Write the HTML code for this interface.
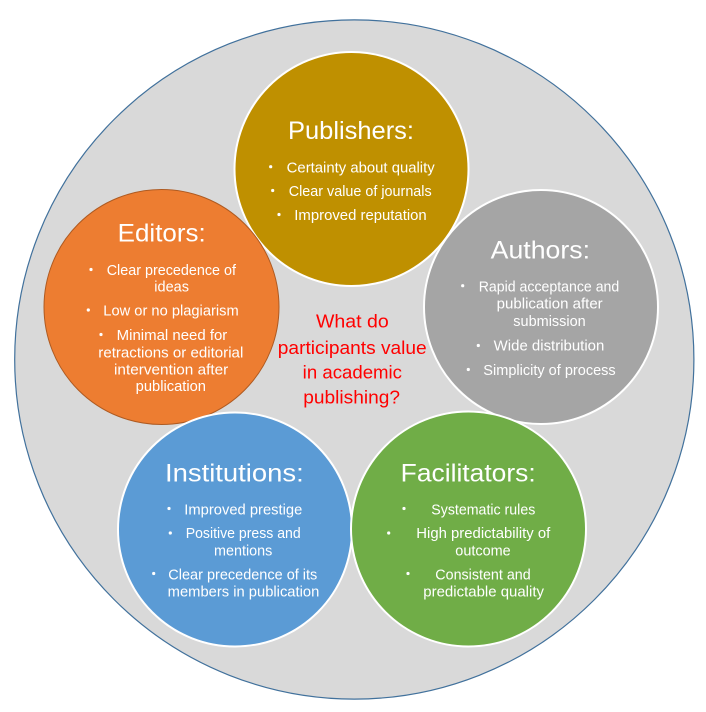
<!DOCTYPE html>
<html>
<head>
<meta charset="utf-8">
<style>
html,body{margin:0;padding:0;background:#ffffff;}
svg{display:block;}
text{font-family:"Liberation Sans",sans-serif;}
.t{fill:#ffffff;font-size:25px;}
.b{fill:#ffffff;font-size:14.5px;}
.r{fill:#ff0000;font-size:18.5px;}
</style>
</head>
<body>
<svg width="706" height="712" viewBox="0 0 706 712" xmlns="http://www.w3.org/2000/svg">
  <rect width="706" height="712" fill="#ffffff"/>
  <circle cx="354.3" cy="359.5" r="339.6" fill="#d9d9d9" stroke="#41719c" stroke-width="1.2"/>

  <!-- Publishers -->
  <circle cx="351.5" cy="169" r="117" fill="#bf9000" stroke="#ffffff" stroke-width="2"/>
  <!-- Editors -->
  <circle cx="161.5" cy="307" r="117.5" fill="#ed7d31" stroke="#ae5a21" stroke-width="1"/>
  <!-- Authors -->
  <circle cx="541" cy="307" r="117" fill="#a5a5a5" stroke="#ffffff" stroke-width="2"/>
  <!-- Institutions -->
  <circle cx="235" cy="529.5" r="117" fill="#5b9bd5" stroke="#ffffff" stroke-width="2"/>
  <!-- Facilitators -->
  <circle cx="468.5" cy="529" r="117.5" fill="#70ad47" stroke="#ffffff" stroke-width="2"/>

  <!-- Publishers text -->
  <text class="t" x="288" y="139" textLength="126" lengthAdjust="spacingAndGlyphs">Publishers:</text>
  <circle cx="270.7" cy="166.7" r="1.6" fill="#fff"/>
  <text class="b" x="286.7" y="172.3" textLength="148" lengthAdjust="spacingAndGlyphs">Certainty about quality</text>
  <circle cx="272.7" cy="190.5" r="1.6" fill="#fff"/>
  <text class="b" x="288.7" y="196" textLength="143" lengthAdjust="spacingAndGlyphs">Clear value of journals</text>
  <circle cx="279" cy="214.5" r="1.6" fill="#fff"/>
  <text class="b" x="294.3" y="220" textLength="132.4" lengthAdjust="spacingAndGlyphs">Improved reputation</text>

  <!-- Editors text -->
  <text class="t" x="117.7" y="241.7" textLength="88" lengthAdjust="spacingAndGlyphs">Editors:</text>
  <circle cx="91" cy="269.5" r="1.6" fill="#fff"/>
  <text class="b" x="106.7" y="275" textLength="129.3" lengthAdjust="spacingAndGlyphs">Clear precedence of</text>
  <text class="b" x="154.3" y="291.5" textLength="34.7" lengthAdjust="spacingAndGlyphs">ideas</text>
  <circle cx="88.3" cy="310" r="1.6" fill="#fff"/>
  <text class="b" x="103.3" y="315.5" textLength="135.4" lengthAdjust="spacingAndGlyphs">Low or no plagiarism</text>
  <circle cx="101" cy="334.5" r="1.6" fill="#fff"/>
  <text class="b" x="116.7" y="340" textLength="110.6" lengthAdjust="spacingAndGlyphs">Minimal need for</text>
  <text class="b" x="98.3" y="357.7" textLength="145" lengthAdjust="spacingAndGlyphs">retractions or editorial</text>
  <text class="b" x="114" y="374.3" textLength="114.3" lengthAdjust="spacingAndGlyphs">intervention after</text>
  <text class="b" x="135.7" y="391" textLength="70.3" lengthAdjust="spacingAndGlyphs">publication</text>

  <!-- Authors text -->
  <text class="t" x="490.7" y="258.3" textLength="99.3" lengthAdjust="spacingAndGlyphs">Authors:</text>
  <circle cx="462.7" cy="285.7" r="1.6" fill="#fff"/>
  <text class="b" x="478.7" y="291.7" textLength="140.6" lengthAdjust="spacingAndGlyphs">Rapid acceptance and</text>
  <text class="b" x="496.7" y="308.3" textLength="106" lengthAdjust="spacingAndGlyphs">publication after</text>
  <text class="b" x="513.3" y="326" textLength="72.4" lengthAdjust="spacingAndGlyphs">submission</text>
  <circle cx="478.3" cy="345.5" r="1.6" fill="#fff"/>
  <text class="b" x="493.7" y="350.7" textLength="110.6" lengthAdjust="spacingAndGlyphs">Wide distribution</text>
  <circle cx="468.3" cy="369.5" r="1.6" fill="#fff"/>
  <text class="b" x="483.3" y="375" textLength="132.4" lengthAdjust="spacingAndGlyphs">Simplicity of process</text>

  <!-- Center question -->
  <text class="r" x="316" y="327.3" textLength="72.7" lengthAdjust="spacingAndGlyphs">What do</text>
  <text class="r" x="277.8" y="354" textLength="148.9" lengthAdjust="spacingAndGlyphs">participants value</text>
  <text class="r" x="302.7" y="378.3" textLength="99.3" lengthAdjust="spacingAndGlyphs">in academic</text>
  <text class="r" x="303.3" y="403.3" textLength="96.7" lengthAdjust="spacingAndGlyphs">publishing?</text>

  <!-- Institutions text -->
  <text class="t" x="165" y="481.3" textLength="138.7" lengthAdjust="spacingAndGlyphs">Institutions:</text>
  <circle cx="169" cy="508.5" r="1.6" fill="#fff"/>
  <text class="b" x="184.3" y="514.7" textLength="118" lengthAdjust="spacingAndGlyphs">Improved prestige</text>
  <circle cx="170.3" cy="533" r="1.6" fill="#fff"/>
  <text class="b" x="185.7" y="538" textLength="115" lengthAdjust="spacingAndGlyphs">Positive press and</text>
  <text class="b" x="214" y="555.3" textLength="58.3" lengthAdjust="spacingAndGlyphs">mentions</text>
  <circle cx="153.7" cy="573.5" r="1.6" fill="#fff"/>
  <text class="b" x="168.3" y="579.3" textLength="149" lengthAdjust="spacingAndGlyphs">Clear precedence of its</text>
  <text class="b" x="167.7" y="596.7" textLength="151.6" lengthAdjust="spacingAndGlyphs">members in publication</text>

  <!-- Facilitators text -->
  <text class="t" x="400.7" y="481.3" textLength="135" lengthAdjust="spacingAndGlyphs">Facilitators:</text>
  <circle cx="404" cy="508.5" r="1.6" fill="#fff"/>
  <text class="b" x="431.3" y="514.7" textLength="104" lengthAdjust="spacingAndGlyphs">Systematic rules</text>
  <circle cx="388.7" cy="533" r="1.6" fill="#fff"/>
  <text class="b" x="416.3" y="538" textLength="134" lengthAdjust="spacingAndGlyphs">High predictability of</text>
  <text class="b" x="455.3" y="555.3" textLength="55.4" lengthAdjust="spacingAndGlyphs">outcome</text>
  <circle cx="408" cy="573.5" r="1.6" fill="#fff"/>
  <text class="b" x="435.3" y="579.3" textLength="95.4" lengthAdjust="spacingAndGlyphs">Consistent and</text>
  <text class="b" x="423.3" y="596.7" textLength="120.7" lengthAdjust="spacingAndGlyphs">predictable quality</text>
</svg>
</body>
</html>
